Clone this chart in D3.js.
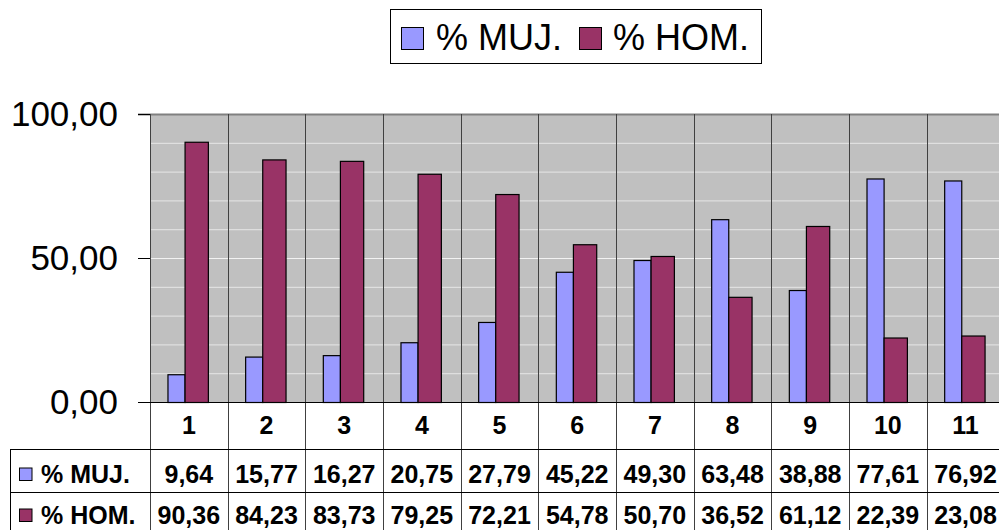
<!DOCTYPE html>
<html>
<head>
<meta charset="utf-8">
<script src="https://cdn.jsdelivr.net/npm/d3@7"></script>
<style>
  html, body { margin: 0; padding: 0; background: #fff; }
  svg { display: block; }
  text { font-family: Arial, "Liberation Sans", sans-serif; }
</style>
</head>
<body>
<svg id="chart" width="999" height="530"></svg>
<script>
const categories = ["1","2","3","4","5","6","7","8","9","10","11"];
const seriesNames = ["% MUJ.", "% HOM."];
const mujValues = [9.64, 15.77, 16.27, 20.75, 27.79, 45.22, 49.30, 63.48, 38.88, 77.61, 76.92];
const homValues = [90.36, 84.23, 83.73, 79.25, 72.21, 54.78, 50.70, 36.52, 61.12, 22.39, 23.08];
const yTicks = [0, 50, 100];
const gridTicks = [10, 20, 30, 40, 60, 70, 80, 90];
const colors = ["#9999FF", "#993366"];

const fmt = v => d3.format(".2f")(v).replace(".", ",");

const svg = d3.select("#chart");
const plotLeft = 150, plotTop = 114, plotBottom = 402;
const band = 77.67;
const x = d3.scaleBand().domain(categories).range([plotLeft, plotLeft + band * categories.length]).padding(0);
const y = d3.scaleLinear().domain([0, 100]).range([plotBottom, plotTop]);
const bw = x.bandwidth();
const plotRight = plotLeft + bw * categories.length;

// plot background
svg.append("rect").attr("x", plotLeft).attr("y", plotTop)
  .attr("width", plotRight - plotLeft).attr("height", plotBottom - plotTop)
  .attr("fill", "#C0C0C0");

// minor gridlines
svg.append("g").selectAll("line").data(gridTicks).join("line")
  .attr("x1", plotLeft).attr("x2", plotRight)
  .attr("y1", d => y(d) + 0.5).attr("y2", d => y(d) + 0.5)
  .attr("stroke", "#E6E6E6").attr("stroke-width", 1);
// major gridline at 50
svg.append("line").attr("x1", plotLeft).attr("x2", plotRight)
  .attr("y1", y(50) + 0.5).attr("y2", y(50) + 0.5)
  .attr("stroke", "#F2F2F2").attr("stroke-width", 1);

// top border
svg.append("line").attr("x1", plotLeft - 12).attr("x2", plotRight)
  .attr("y1", plotTop + 0.5).attr("y2", plotTop + 0.5)
  .attr("stroke", "#808080").attr("stroke-width", 2);

// category divider lines (plot + table)
const dividers = categories.map(c => x(c)).concat([plotRight]);
svg.append("g").selectAll("line").data(dividers).join("line")
  .attr("x1", d => Math.round(d) + 0.5).attr("x2", d => Math.round(d) + 0.5)
  .attr("y1", plotTop).attr("y2", 530)
  .attr("stroke", "#404040").attr("stroke-width", 1);

// bars
const gBars = svg.append("g");
gBars.selectAll("rect.muj").data(categories).join("rect")
  .attr("class", "muj")
  .attr("x", c => x(c) + bw * 0.225 + 0.5)
  .attr("width", bw * 0.22)
  .attr("y", (c, i) => y(mujValues[i]) + 0.5)
  .attr("height", (c, i) => y(0) - y(mujValues[i]))
  .attr("fill", colors[0]).attr("stroke", "#000").attr("stroke-width", 1.2);
gBars.selectAll("rect.hom").data(categories).join("rect")
  .attr("class", "hom")
  .attr("x", c => x(c) + bw * 0.445 + 0.5)
  .attr("width", bw * 0.30)
  .attr("y", (c, i) => y(homValues[i]) + 0.5)
  .attr("height", (c, i) => y(0) - y(homValues[i]))
  .attr("fill", colors[1]).attr("stroke", "#000").attr("stroke-width", 1.2);

// y axis
const yAxis = d3.axisLeft(y).tickValues(yTicks).tickFormat(fmt).tickSize(12).tickPadding(20);
const gy = svg.append("g").attr("transform", `translate(${plotLeft},0)`).call(yAxis);
gy.select(".domain").attr("stroke", "#404040");
gy.selectAll(".tick line").attr("stroke", "#000");
gy.selectAll(".tick text").attr("font-size", 35).attr("fill", "#000")
  .attr("font-family", "Arial, 'Liberation Sans', sans-serif")
  .attr("x", -32).attr("dy", "0.34em");

// x axis baseline
svg.append("line").attr("x1", plotLeft - 12).attr("x2", 999)
  .attr("y1", plotBottom + 0.5).attr("y2", plotBottom + 0.5)
  .attr("stroke", "#000").attr("stroke-width", 1);

// data table
const tableLeft = 10.5;
const row1 = 449, row2 = 492;
[row1, row2].forEach(r => {
  svg.append("line").attr("x1", tableLeft).attr("x2", 999)
    .attr("y1", r + 0.5).attr("y2", r + 0.5)
    .attr("stroke", "#000").attr("stroke-width", 1);
});
svg.append("line").attr("x1", tableLeft).attr("x2", tableLeft)
  .attr("y1", row1).attr("y2", 530).attr("stroke", "#000");

// category labels
svg.append("g").selectAll("text").data(categories).join("text")
  .attr("x", c => x(c) + bw / 2).attr("y", 434)
  .attr("text-anchor", "middle").attr("font-size", 25).attr("font-weight", "bold")
  .text(c => c);

// row values
const rows = [mujValues, homValues];
const rowBase = [483, 524];
rows.forEach((vals, ri) => {
  svg.append("g").selectAll("text").data(categories).join("text")
    .attr("x", c => x(c) + bw / 2).attr("y", rowBase[ri])
    .attr("text-anchor", "middle").attr("font-size", 25).attr("font-weight", "bold")
    .text((c, i) => fmt(vals[i]));
  svg.append("rect").attr("x", 19.5).attr("y", rowBase[ri] - 15)
    .attr("width", 12.5).attr("height", 12.5)
    .attr("fill", colors[ri]).attr("stroke", "#000").attr("stroke-width", 1);
  svg.append("text").attr("x", 41).attr("y", rowBase[ri])
    .attr("font-size", 25).attr("font-weight", "bold").text(seriesNames[ri]);
});

// legend
const lg = svg.append("g");
lg.append("rect").attr("x", 390.5).attr("y", 9.5).attr("width", 371).attr("height", 54)
  .attr("fill", "#fff").attr("stroke", "#000").attr("stroke-width", 1);
const legendItems = [{sx: 401, tx: 436}, {sx: 579, tx: 613}];
legendItems.forEach((it, i) => {
  lg.append("rect").attr("x", it.sx + 0.5).attr("y", 27.5).attr("width", 22).attr("height", 22)
    .attr("fill", colors[i]).attr("stroke", "#000").attr("stroke-width", 1);
  lg.append("text").attr("x", it.tx).attr("y", 50).attr("font-size", 36).text(seriesNames[i]);
});
</script>
</body>
</html>
